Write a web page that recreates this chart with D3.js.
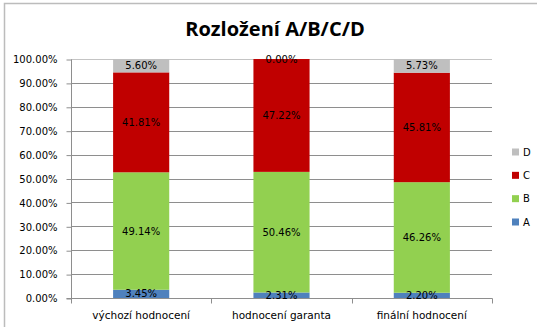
<!DOCTYPE html>
<html>
<head>
<meta charset="utf-8">
<script src="https://cdn.jsdelivr.net/npm/d3@7"></script>
<style>
  html, body { margin: 0; padding: 0; background: #fff; }
  svg { display: block; }
  text { font-family: "DejaVu Sans", sans-serif; }
  text.title { font-family: "Open Sans", sans-serif; }
</style>
</head>
<body>
<svg id="chart" width="537" height="327"></svg>
<script>
// Share of ratings A/B/C/D per evaluation stage (percent)
const categories = ["výchozí hodnocení", "hodnocení garanta", "finální hodnocení"];
const seriesNames = ["A", "B", "C", "D"];
const valuesA = [3.45, 2.31, 2.20];
const valuesB = [49.14, 50.46, 46.26];
const valuesC = [41.81, 47.22, 45.81];
const valuesD = [5.60, 0.00, 5.73];
const yTicks = [0, 10, 20, 30, 40, 50, 60, 70, 80, 90, 100];
const colors = { A: "#4f81bd", B: "#92d050", C: "#c00000", D: "#bfbfbf" };

const rows = categories.map((c, i) => ({
  cat: c, A: valuesA[i], B: valuesB[i], C: valuesC[i], D: valuesD[i]
}));

const svg = d3.select("#chart");

// outer chart frame
svg.append("rect")
  .attr("x", 4.5).attr("y", 3.5)
  .attr("width", 560).attr("height", 360)
  .attr("fill", "#fff").attr("stroke", "#bcbcbc").attr("stroke-width", 1.5);

// title
svg.append("text")
  .attr("class", "title")
  .attr("x", 275).attr("y", 36)
  .attr("text-anchor", "middle")
  .attr("font-size", 20).attr("font-weight", "bold")
  .attr("fill", "#000")
  .text("Rozložení A/B/C/D");

const plot = { left: 71, right: 492, top: 59, bottom: 298 };

const x = d3.scaleBand().domain(categories)
  .range([plot.left, plot.right]).paddingInner(0.6).paddingOuter(0.3);
const y = d3.scaleLinear().domain([0, 100]).range([plot.bottom, plot.top]);

// horizontal gridlines
svg.append("g").selectAll("line").data(yTicks.filter(t => t > 0)).join("line")
  .attr("x1", plot.left).attr("x2", plot.right)
  .attr("y1", d => Math.round(y(d)) + 0.5).attr("y2", d => Math.round(y(d)) + 0.5)
  .attr("stroke", d => d === 100 ? "#c4c4c4" : "#8e8e8e").attr("stroke-width", 1);

// y axis
const yAxis = d3.axisLeft(y).tickValues(yTicks)
  .tickFormat(d => d.toFixed(2) + "%").tickSize(5).tickPadding(9);
const gy = svg.append("g").attr("transform", `translate(${plot.left + 0.5},0.5)`).call(yAxis);
gy.select(".domain").attr("stroke", "#8e8e8e").attr("d", `M-5,${plot.bottom}H0V${plot.top}`);
gy.selectAll(".tick line").attr("stroke", "#8e8e8e");
gy.selectAll(".tick text").attr("font-size", 10).attr("fill", "#000");

// x axis with boundary ticks between categories
const xAxisG = svg.append("g").attr("transform", `translate(0,${plot.bottom + 0.5})`);
xAxisG.append("line").attr("x1", plot.left).attr("x2", plot.right + 0.5)
  .attr("y1", 0).attr("y2", 0).attr("stroke", "#8e8e8e");
const step = (plot.right - plot.left) / categories.length;
xAxisG.selectAll("line.b").data(d3.range(categories.length + 1)).join("line")
  .attr("class", "b")
  .attr("x1", i => Math.round(plot.left + i * step) + 0.5)
  .attr("x2", i => Math.round(plot.left + i * step) + 0.5)
  .attr("y1", 0).attr("y2", 5).attr("stroke", "#8e8e8e");
xAxisG.selectAll("text").data(categories).join("text")
  .attr("x", d => x(d) + x.bandwidth() / 2)
  .attr("y", 20)
  .attr("text-anchor", "middle")
  .attr("font-size", 10.5).attr("fill", "#000")
  .text(d => d);

// stacked bars
const stacked = d3.stack().keys(seriesNames)(rows);
const layers = svg.append("g").selectAll("g").data(stacked).join("g")
  .attr("fill", d => colors[d.key]);
layers.selectAll("rect").data(d => d).join("rect")
  .attr("x", d => x(d.data.cat))
  .attr("width", x.bandwidth())
  .attr("y", d => y(d[1]))
  .attr("height", d => y(d[0]) - y(d[1]));

// value labels centered in each segment
const labels = svg.append("g");
stacked.forEach(layer => {
  layer.forEach(d => {
    const v = d.data[layer.key];
    labels.append("text")
      .attr("x", x(d.data.cat) + x.bandwidth() / 2)
      .attr("y", y((d[0] + d[1]) / 2))
      .attr("dy", "0.35em")
      .attr("text-anchor", "middle")
      .attr("font-size", 10).attr("fill", "#000")
      .text(v.toFixed(2) + "%");
  });
});

// legend (D on top down to A)
const legend = svg.append("g");
const legendOrder = seriesNames.slice().reverse();
const legendY = d3.scalePoint().domain(legendOrder).range([152, 222]);
legendOrder.forEach(k => {
  const ly = legendY(k);
  legend.append("rect").attr("x", 512).attr("y", ly - 3.5)
    .attr("width", 7).attr("height", 7).attr("fill", colors[k]);
  legend.append("text").attr("x", 523).attr("y", ly).attr("dy", "0.35em")
    .attr("font-size", 10).attr("fill", "#000").text(k);
});
</script>
</body>
</html>
